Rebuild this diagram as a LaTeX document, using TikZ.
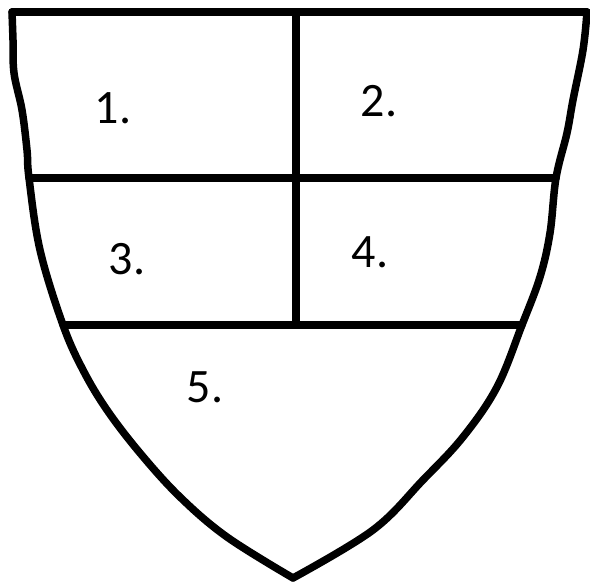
\documentclass[tikz,border=0pt]{standalone}
\usepackage{fontspec}
\setmainfont{Carlito}

\begin{document}
\begin{tikzpicture}[x=1pt,y=-1pt,
    shield/.style={line width=7.5pt,line join=round,line cap=round},
    field/.style={inner sep=0pt,font=\fontsize{48}{48}\selectfont}]
    \useasboundingbox (0,0) rectangle (590,583);

    % Вершини щита
    \coordinate (TL) at (12,12);
    \coordinate (TR) at (587,12);
    \coordinate (Bt) at (293,578);

    % Точки поділу
    \coordinate (L1) at (29,178);
    \coordinate (R1) at (556,178);
    \coordinate (L2) at (63,325);
    \coordinate (R2) at (522,325);
    \coordinate (T) at (296,12);
    \coordinate (M) at (296,325);

    % Контур щита
    \draw[shield] (TL) -- (TR);
    \draw[shield] plot[smooth,tension=0.6] coordinates {(TL) (13,40) (14,73) (22,110) (27,150)
        (L1) (40,250) (L2) (83,370) (107,410) (140,453) (180,497) (227,537) (Bt)};
    \draw[shield] plot[smooth,tension=0.6] coordinates {(TR) (583,50) (573,100) (567,133)
        (R1) (550,233) (540,277) (R2) (497,387) (463,437) (423,480) (373,530) (Bt)};

    % Поділ на поля
    \draw[shield] (L1) -- (R1);
    \draw[shield] (L2) -- (R2);
    \draw[shield] (T) -- (M);

    % Номери полів
    \node[field] (f1) at (113,108) {1.};
    \node[field] (f2) at (379,101) {2.};
    \node[field] (f3) at (127,259) {3.};
    \node[field] (f4) at (370,252) {4.};
    \node[field] (f5) at (205,387) {5.};
\end{tikzpicture}
\end{document}
